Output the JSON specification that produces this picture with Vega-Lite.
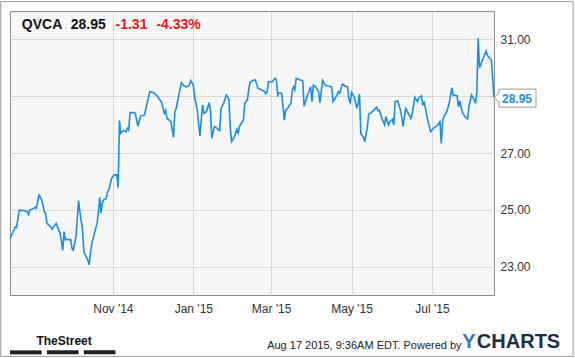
{
  "$schema": "https://vega.github.io/schema/vega-lite/v6.json",
  "width": 484,
  "height": 284,
  "autosize": {"type": "none"},
  "padding": {"left": 10, "top": 11, "right": 81, "bottom": 63},
  "background": "#ffffff",
  "config": {
    "font": "Liberation Sans",
    "view": {"fill": "#f7f7f7", "stroke": "#8c8c8c", "strokeWidth": 1},
    "axis": {"labelFont": "Liberation Sans", "labelFontSize": 12, "labelColor": "#333333", "ticks": false, "domain": false, "gridColor": "#d9d9d9", "gridWidth": 1}
  },
  "datasets": {
    "price": [
      {"date": "2014-08-15", "value": 23.98}, {"date": "2014-08-18", "value": 24.29}, {"date": "2014-08-19", "value": 24.40}, {"date": "2014-08-20", "value": 24.37},
      {"date": "2014-08-22", "value": 24.99}, {"date": "2014-08-26", "value": 24.97}, {"date": "2014-08-28", "value": 24.93}, {"date": "2014-08-29", "value": 24.84},
      {"date": "2014-08-30", "value": 24.99}, {"date": "2014-09-02", "value": 25.05}, {"date": "2014-09-03", "value": 25.09}, {"date": "2014-09-04", "value": 25.05},
      {"date": "2014-09-06", "value": 25.52}, {"date": "2014-09-08", "value": 25.35}, {"date": "2014-09-10", "value": 24.93}, {"date": "2014-09-11", "value": 24.88},
      {"date": "2014-09-12", "value": 24.52}, {"date": "2014-09-15", "value": 24.40}, {"date": "2014-09-16", "value": 24.32}, {"date": "2014-09-18", "value": 24.46},
      {"date": "2014-09-19", "value": 24.52}, {"date": "2014-09-20", "value": 24.40}, {"date": "2014-09-22", "value": 24.17}, {"date": "2014-09-24", "value": 23.58},
      {"date": "2014-09-25", "value": 24.23}, {"date": "2014-09-26", "value": 23.94}, {"date": "2014-09-27", "value": 23.96}, {"date": "2014-09-29", "value": 23.94},
      {"date": "2014-09-30", "value": 23.96}, {"date": "2014-10-01", "value": 23.64}, {"date": "2014-10-02", "value": 23.58}, {"date": "2014-10-04", "value": 24.05},
      {"date": "2014-10-06", "value": 25.32}, {"date": "2014-10-07", "value": 24.93}, {"date": "2014-10-09", "value": 24.29}, {"date": "2014-10-10", "value": 23.52},
      {"date": "2014-10-13", "value": 23.23}, {"date": "2014-10-14", "value": 23.06}, {"date": "2014-10-15", "value": 23.47}, {"date": "2014-10-16", "value": 23.82},
      {"date": "2014-10-18", "value": 24.17}, {"date": "2014-10-20", "value": 24.52}, {"date": "2014-10-21", "value": 24.88}, {"date": "2014-10-22", "value": 25.44},
      {"date": "2014-10-23", "value": 24.88}, {"date": "2014-10-24", "value": 25.23}, {"date": "2014-10-25", "value": 25.35}, {"date": "2014-10-27", "value": 25.40},
      {"date": "2014-10-28", "value": 25.64}, {"date": "2014-10-29", "value": 25.70}, {"date": "2014-10-31", "value": 26.11}, {"date": "2014-11-02", "value": 26.23},
      {"date": "2014-11-04", "value": 26.23}, {"date": "2014-11-05", "value": 25.78}, {"date": "2014-11-06", "value": 28.14}, {"date": "2014-11-07", "value": 27.69},
      {"date": "2014-11-09", "value": 27.79}, {"date": "2014-11-11", "value": 27.75}, {"date": "2014-11-12", "value": 27.87}, {"date": "2014-11-13", "value": 27.81},
      {"date": "2014-11-14", "value": 28.42}, {"date": "2014-11-17", "value": 28.42}, {"date": "2014-11-18", "value": 28.40}, {"date": "2014-11-20", "value": 27.95},
      {"date": "2014-11-22", "value": 28.30}, {"date": "2014-11-25", "value": 28.34}, {"date": "2014-11-29", "value": 29.16}, {"date": "2014-12-02", "value": 29.12},
      {"date": "2014-12-05", "value": 28.98}, {"date": "2014-12-08", "value": 28.78}, {"date": "2014-12-10", "value": 28.40}, {"date": "2014-12-11", "value": 28.51},
      {"date": "2014-12-12", "value": 28.22}, {"date": "2014-12-13", "value": 28.19}, {"date": "2014-12-15", "value": 28.10}, {"date": "2014-12-17", "value": 27.55},
      {"date": "2014-12-18", "value": 28.45}, {"date": "2014-12-19", "value": 28.57}, {"date": "2014-12-21", "value": 29.04}, {"date": "2014-12-23", "value": 29.48},
      {"date": "2014-12-25", "value": 29.36}, {"date": "2014-12-27", "value": 29.33}, {"date": "2014-12-29", "value": 29.39}, {"date": "2014-12-30", "value": 29.55},
      {"date": "2015-01-01", "value": 29.39}, {"date": "2015-01-02", "value": 28.98}, {"date": "2015-01-04", "value": 28.51}, {"date": "2015-01-06", "value": 27.60},
      {"date": "2015-01-08", "value": 28.69}, {"date": "2015-01-09", "value": 28.40}, {"date": "2015-01-11", "value": 28.45}, {"date": "2015-01-13", "value": 28.77},
      {"date": "2015-01-14", "value": 28.50}, {"date": "2015-01-15", "value": 27.52}, {"date": "2015-01-17", "value": 27.93}, {"date": "2015-01-19", "value": 27.87},
      {"date": "2015-01-21", "value": 27.79}, {"date": "2015-01-22", "value": 28.57}, {"date": "2015-01-24", "value": 28.75}, {"date": "2015-01-26", "value": 29.04},
      {"date": "2015-01-28", "value": 28.89}, {"date": "2015-01-29", "value": 27.93}, {"date": "2015-01-30", "value": 27.40}, {"date": "2015-02-01", "value": 27.55},
      {"date": "2015-02-03", "value": 27.83}, {"date": "2015-02-04", "value": 27.71}, {"date": "2015-02-05", "value": 27.93}, {"date": "2015-02-07", "value": 28.10},
      {"date": "2015-02-08", "value": 28.16}, {"date": "2015-02-09", "value": 28.75}, {"date": "2015-02-11", "value": 28.87}, {"date": "2015-02-12", "value": 29.22},
      {"date": "2015-02-13", "value": 29.48}, {"date": "2015-02-15", "value": 29.55}, {"date": "2015-02-17", "value": 29.57}, {"date": "2015-02-19", "value": 29.28},
      {"date": "2015-02-22", "value": 29.22}, {"date": "2015-02-24", "value": 29.16}, {"date": "2015-02-25", "value": 29.08}, {"date": "2015-02-26", "value": 29.16},
      {"date": "2015-02-27", "value": 29.51}, {"date": "2015-03-02", "value": 29.51}, {"date": "2015-03-04", "value": 29.63}, {"date": "2015-03-05", "value": 29.57},
      {"date": "2015-03-06", "value": 29.04}, {"date": "2015-03-07", "value": 29.12}, {"date": "2015-03-09", "value": 29.10}, {"date": "2015-03-10", "value": 28.63},
      {"date": "2015-03-11", "value": 28.16}, {"date": "2015-03-12", "value": 28.49}, {"date": "2015-03-14", "value": 28.61}, {"date": "2015-03-16", "value": 28.75},
      {"date": "2015-03-17", "value": 29.19}, {"date": "2015-03-18", "value": 29.33}, {"date": "2015-03-19", "value": 29.22}, {"date": "2015-03-20", "value": 29.63},
      {"date": "2015-03-23", "value": 29.57}, {"date": "2015-03-25", "value": 29.55}, {"date": "2015-03-26", "value": 28.65}, {"date": "2015-03-28", "value": 28.96},
      {"date": "2015-03-30", "value": 29.22}, {"date": "2015-03-31", "value": 29.33}, {"date": "2015-04-01", "value": 28.81}, {"date": "2015-04-02", "value": 29.39},
      {"date": "2015-04-04", "value": 29.31}, {"date": "2015-04-06", "value": 29.16}, {"date": "2015-04-07", "value": 28.77}, {"date": "2015-04-09", "value": 29.55},
      {"date": "2015-04-11", "value": 29.39}, {"date": "2015-04-13", "value": 29.36}, {"date": "2015-04-15", "value": 29.34}, {"date": "2015-04-16", "value": 29.31},
      {"date": "2015-04-17", "value": 28.81}, {"date": "2015-04-19", "value": 28.96}, {"date": "2015-04-21", "value": 29.16}, {"date": "2015-04-22", "value": 29.10},
      {"date": "2015-04-24", "value": 29.43}, {"date": "2015-04-26", "value": 29.36}, {"date": "2015-04-28", "value": 29.33}, {"date": "2015-04-29", "value": 28.87},
      {"date": "2015-04-30", "value": 28.77}, {"date": "2015-05-01", "value": 29.14}, {"date": "2015-05-03", "value": 28.98}, {"date": "2015-05-05", "value": 28.57},
      {"date": "2015-05-06", "value": 28.75}, {"date": "2015-05-07", "value": 29.08}, {"date": "2015-05-08", "value": 27.69}, {"date": "2015-05-10", "value": 27.55},
      {"date": "2015-05-11", "value": 27.40}, {"date": "2015-05-13", "value": 27.93}, {"date": "2015-05-14", "value": 28.37}, {"date": "2015-05-16", "value": 28.42},
      {"date": "2015-05-18", "value": 28.51}, {"date": "2015-05-20", "value": 28.61}, {"date": "2015-05-21", "value": 28.49}, {"date": "2015-05-22", "value": 28.51},
      {"date": "2015-05-24", "value": 28.22}, {"date": "2015-05-26", "value": 27.99}, {"date": "2015-05-27", "value": 28.28}, {"date": "2015-05-29", "value": 27.99},
      {"date": "2015-05-30", "value": 28.10}, {"date": "2015-06-01", "value": 28.19}, {"date": "2015-06-02", "value": 27.99}, {"date": "2015-06-03", "value": 28.81},
      {"date": "2015-06-05", "value": 28.84}, {"date": "2015-06-07", "value": 28.51}, {"date": "2015-06-08", "value": 28.28}, {"date": "2015-06-09", "value": 27.93},
      {"date": "2015-06-11", "value": 28.57}, {"date": "2015-06-13", "value": 28.40}, {"date": "2015-06-15", "value": 28.22}, {"date": "2015-06-16", "value": 28.40},
      {"date": "2015-06-18", "value": 28.96}, {"date": "2015-06-20", "value": 28.81}, {"date": "2015-06-21", "value": 28.95}, {"date": "2015-06-23", "value": 29.02},
      {"date": "2015-06-24", "value": 28.71}, {"date": "2015-06-25", "value": 28.78}, {"date": "2015-06-26", "value": 28.57}, {"date": "2015-06-28", "value": 28.10},
      {"date": "2015-06-30", "value": 27.75}, {"date": "2015-07-02", "value": 27.87}, {"date": "2015-07-05", "value": 27.96}, {"date": "2015-07-07", "value": 28.10},
      {"date": "2015-07-08", "value": 27.34}, {"date": "2015-07-09", "value": 28.10}, {"date": "2015-07-10", "value": 28.28}, {"date": "2015-07-12", "value": 28.43},
      {"date": "2015-07-14", "value": 28.75}, {"date": "2015-07-16", "value": 29.30}, {"date": "2015-07-17", "value": 29.04}, {"date": "2015-07-20", "value": 29.02},
      {"date": "2015-07-21", "value": 28.63}, {"date": "2015-07-22", "value": 28.83}, {"date": "2015-07-24", "value": 28.43}, {"date": "2015-07-26", "value": 28.28},
      {"date": "2015-07-28", "value": 28.20}, {"date": "2015-07-29", "value": 28.63}, {"date": "2015-07-31", "value": 29.04}, {"date": "2015-08-02", "value": 28.87},
      {"date": "2015-08-03", "value": 28.75}, {"date": "2015-08-04", "value": 29.16}, {"date": "2015-08-05", "value": 31.04}, {"date": "2015-08-06", "value": 30.00},
      {"date": "2015-08-07", "value": 30.12}, {"date": "2015-08-09", "value": 30.36}, {"date": "2015-08-11", "value": 30.59}, {"date": "2015-08-12", "value": 30.43},
      {"date": "2015-08-14", "value": 30.33}, {"date": "2015-08-15", "value": 30.28}, {"date": "2015-08-17", "value": 28.95}
    ],
    "notes": [
      {"item": "ticker", "date": "2014-08-24", "value": 31.36, "text": "QVCA"},
      {"item": "ticker", "date": "2014-09-30", "value": 31.36, "text": "28.95"},
      {"item": "change", "date": "2014-11-03", "value": 31.36, "text": "-1.31"},
      {"item": "change", "date": "2014-12-04", "value": 31.36, "text": "-4.33%"},
      {"item": "last", "date": "2015-08-17", "value": 28.95, "text": "28.95"},
      {"item": "stamp", "date": "2015-02-26", "value": 20.1, "text": "Aug 17 2015, 9:36AM EDT. Powered by"},
      {"item": "brand", "date": "2015-08-04", "value": 20.13, "text": "CHARTS"},
      {"item": "brandY", "date": "2015-07-24", "value": 20.13, "text": "Y"},
      {"item": "street", "date": "2014-09-04", "value": 20.24, "text": "TheStreet"},
      {"item": "bar", "date": "2014-08-15", "date2": "2014-09-08", "value": 19.98},
      {"item": "bar", "date": "2014-09-12", "date2": "2014-10-06", "value": 19.98},
      {"item": "bar", "date": "2014-10-10", "date2": "2014-11-03", "value": 19.98},
      {"item": "frame", "date": "2014-08-08", "date2": "2015-10-16", "value": 32.33, "value2": 19.84}
    ]
  },
  "encoding": {
    "x": {
      "field": "date", "type": "temporal",
      "scale": {"type": "utc", "nice": false, "domain": [{"year": 2014, "month": 8, "date": 15, "utc": true}, {"year": 2015, "month": 8, "date": 17, "utc": true}]},
      "axis": {"title": null, "grid": true, "format": "%b '%y", "labelPadding": 8, "labelFlush": false, "labelOverlap": false,
        "values": [{"year": 2014, "month": 11, "date": 1, "utc": true}, {"year": 2015, "month": 1, "date": 1, "utc": true}, {"year": 2015, "month": 3, "date": 1, "utc": true}, {"year": 2015, "month": 5, "date": 1, "utc": true}, {"year": 2015, "month": 7, "date": 1, "utc": true}]}
    },
    "y": {
      "field": "value", "type": "quantitative",
      "scale": {"domain": [22, 32], "nice": false, "zero": false},
      "axis": {"title": null, "orient": "right", "grid": true, "values": [23, 25, 27, 29, 31], "format": ".2f", "labelPadding": 6, "labelExpr": "datum.value === 29 ? '' : datum.label"}
    }
  },
  "layer": [
    {"data": {"name": "price"}, "mark": {"type": "line", "color": "#1c8de6", "strokeWidth": 1.6, "clip": false}},
    {"data": {"name": "notes"}, "transform": [{"filter": "datum.item === 'last'"}],
     "mark": {"type": "point", "shape": "M0,0L0.111,-0.1L0.111,-0.189L0.933,-0.189L0.933,0.211L0.111,0.211L0.111,0.1Z", "size": 8100, "filled": true, "fill": "#ffffff", "stroke": "#9a9a9a", "strokeWidth": 1, "opacity": 1}},
    {"data": {"name": "notes"}, "transform": [{"filter": "datum.item === 'last'"}],
     "mark": {"type": "text", "align": "left", "baseline": "middle", "dx": 8, "dy": 1, "font": "Liberation Sans", "fontSize": 12, "fontWeight": "bold", "color": "#1c8de6"},
     "encoding": {"text": {"field": "text"}}},
    {"data": {"name": "notes"}, "transform": [{"filter": "datum.item === 'ticker'"}],
     "mark": {"type": "text", "align": "left", "baseline": "alphabetic", "font": "Liberation Sans", "fontSize": 14, "fontWeight": "bold", "color": "#111111"},
     "encoding": {"text": {"field": "text"}}},
    {"data": {"name": "notes"}, "transform": [{"filter": "datum.item === 'change'"}],
     "mark": {"type": "text", "align": "left", "baseline": "alphabetic", "font": "Liberation Sans", "fontSize": 14, "fontWeight": "bold", "color": "#f01414"},
     "encoding": {"text": {"field": "text"}}},
    {"data": {"name": "notes"}, "transform": [{"filter": "datum.item === 'stamp'"}],
     "mark": {"type": "text", "align": "left", "baseline": "alphabetic", "font": "Liberation Sans", "fontSize": 11, "color": "#222222"},
     "encoding": {"text": {"field": "text"}}},
    {"data": {"name": "notes"}, "transform": [{"filter": "datum.item === 'brand'"}],
     "mark": {"type": "text", "align": "left", "baseline": "alphabetic", "font": "Liberation Sans", "fontSize": 20, "fontWeight": "bold", "color": "#1e2b47"},
     "encoding": {"text": {"field": "text"}}},
    {"data": {"name": "notes"}, "transform": [{"filter": "datum.item === 'brandY'"}],
     "mark": {"type": "text", "align": "left", "baseline": "alphabetic", "font": "Liberation Sans", "fontSize": 20, "fontWeight": "bold", "color": "#3d72b8"},
     "encoding": {"text": {"field": "text"}}},
    {"data": {"name": "notes"}, "transform": [{"filter": "datum.item === 'street'"}],
     "mark": {"type": "text", "align": "left", "baseline": "alphabetic", "font": "Liberation Sans", "fontSize": 12, "fontWeight": "bold", "color": "#111111"},
     "encoding": {"text": {"field": "text"}}},
    {"data": {"name": "notes"}, "transform": [{"filter": "datum.item === 'bar'"}],
     "mark": {"type": "rule", "strokeWidth": 4, "color": "#222222", "strokeCap": "butt"},
     "encoding": {"x2": {"field": "date2"}}},
    {"data": {"name": "notes"}, "transform": [{"filter": "datum.item === 'frame'"}],
     "mark": {"type": "rect", "fill": null, "filled": false, "stroke": "#999999", "strokeWidth": 1},
     "encoding": {"x2": {"field": "date2"}, "y2": {"field": "value2"}}}
  ]
}
